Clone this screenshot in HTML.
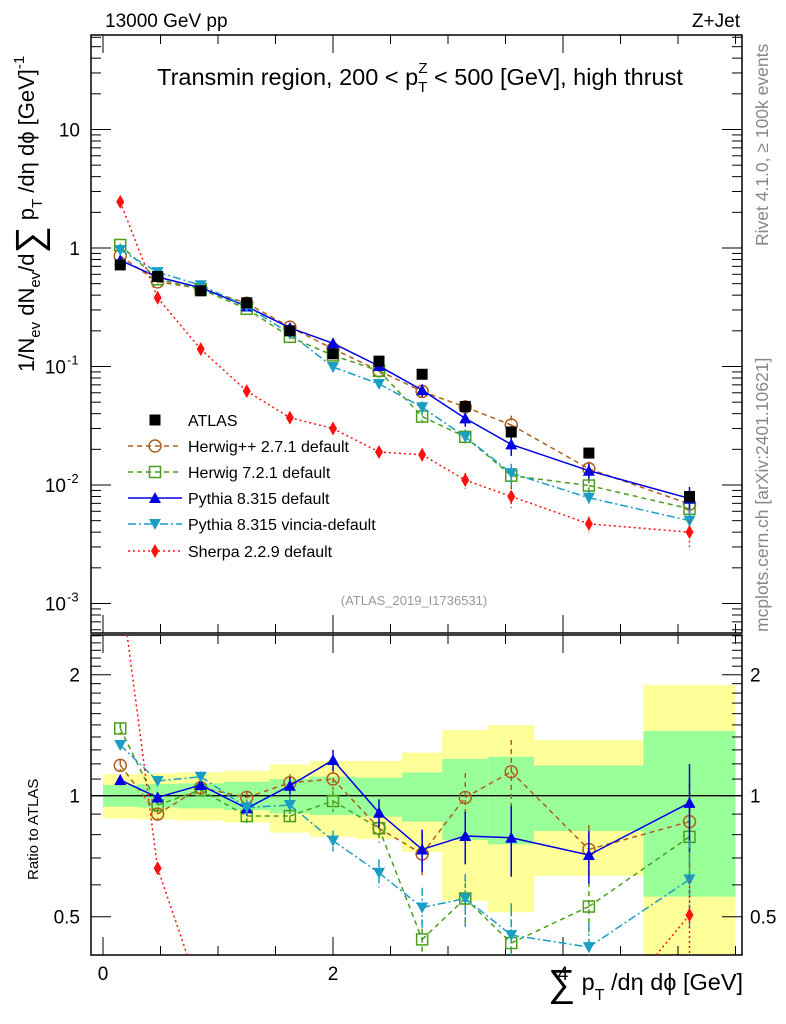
<!DOCTYPE html>
<html><head><meta charset="utf-8"><style>
html,body{margin:0;background:#fff;width:786px;height:1024px;overflow:hidden}
svg{display:block;font-family:"Liberation Sans",sans-serif}
</style></head><body>
<svg id="c" width="786" height="1024" viewBox="0 0 786 1024" xmlns="http://www.w3.org/2000/svg">
<defs>
<clipPath id="cm"><rect x="91" y="35" width="651" height="598"/></clipPath>
<clipPath id="cr"><rect x="91" y="635" width="651" height="320"/></clipPath>
</defs>
<g id="bands" clip-path="url(#cr)"></g>
<g id="axes"></g>
<g id="series"></g>
<text x="105" y="27" font-size="19">13000 GeV pp</text>
<text x="740" y="27" font-size="19" text-anchor="end">Z+Jet</text>
<text x="420" y="85" font-size="23.5" text-anchor="middle">Transmin region, 200 &lt; p<tspan font-size="15" dy="7">T</tspan><tspan font-size="15" dx="-9" dy="-19">Z</tspan><tspan dy="12"> &lt; 500 [GeV], high thrust</tspan></text>
<text x="414" y="605" font-size="13" fill="#999" text-anchor="middle">(ATLAS_2019_I1736531)</text>
<text transform="translate(768,246) rotate(-90)" font-size="17.5" fill="#888">Rivet 4.1.0, ≥ 100k events</text>
<text transform="translate(768,632) rotate(-90)" font-size="17.5" fill="#888">mcplots.cern.ch [arXiv:2401.10621]</text>
<text transform="translate(34,372) rotate(-90)" font-size="22">1/N<tspan font-size="15" dy="6">ev</tspan><tspan dy="-6"> dN</tspan><tspan font-size="15" dy="6">ev</tspan><tspan dy="-6">/d</tspan><tspan font-size="38" dy="8">∑</tspan><tspan dy="-8"> p</tspan><tspan font-size="15" dy="8">T</tspan><tspan dy="-8"> /dη dϕ  [GeV]</tspan><tspan font-size="15" dy="-10">-1</tspan></text>
<text transform="translate(38,880) rotate(-90)" font-size="15">Ratio to ATLAS</text>
<text x="548" y="996" font-size="23.5"><tspan font-size="38">∑</tspan><tspan dy="-6"> p</tspan><tspan font-size="16" dy="10">T</tspan><tspan dy="-10"> /dη dϕ [GeV]</tspan></text>
<g id="legend"></g>
</svg>
<script>
const NS="http://www.w3.org/2000/svg";
const edges=[0,0.3,0.65,1.05,1.45,1.8,2.2,2.6,2.95,3.35,3.75,4.7,5.5];
const xs=[0.15,0.475,0.85,1.25,1.625,2.0,2.4,2.775,3.15,3.55,4.225,5.1];
const atlas=[0.72,0.575,0.435,0.345,0.2,0.128,0.111,0.086,0.046,0.028,0.0186,0.008];
const herwigpp=[0.857,0.518,0.455,0.342,0.215,0.141,0.092,0.0616,0.0455,0.0321,0.0137,0.0069];
const herwig7=[1.06,0.545,0.449,0.307,0.178,0.124,0.092,0.0378,0.0255,0.012,0.0099,0.0063];
const pythia=[0.788,0.569,0.462,0.321,0.212,0.157,0.101,0.0632,0.0365,0.022,0.0132,0.0077];
const vincia=[0.963,0.626,0.485,0.322,0.19,0.099,0.0714,0.0453,0.0255,0.0126,0.0078,0.005];
const sherpa=[2.45,0.38,0.14,0.062,0.037,0.030,0.019,0.018,0.011,0.008,0.0047,0.0040];
const rHerwigpp=[1.19,0.90,1.047,0.99,1.077,1.10,0.83,0.716,0.99,1.147,0.735,0.862];
const rHerwig7=[1.47,0.948,1.033,0.89,0.89,0.97,0.83,0.439,0.555,0.43,0.53,0.79];
const rPythia=[1.094,0.99,1.063,0.93,1.059,1.227,0.907,0.735,0.794,0.786,0.712,0.96];
const rVincia=[1.337,1.088,1.115,0.934,0.948,0.773,0.643,0.527,0.555,0.45,0.42,0.619];
const rSherpa=[3.4,0.66,0.32,0.18,0.185,0.234,0.171,0.209,0.239,0.286,0.253,0.505];
const bandTotUp=[1.13,1.137,1.143,1.152,1.196,1.22,1.22,1.279,1.457,1.499,1.375,1.886];
const bandTotDn=[0.878,0.873,0.867,0.858,0.809,0.79,0.78,0.725,0.548,0.513,0.632,0.3];
const bandStatUp=[1.063,1.069,1.073,1.083,1.1,1.115,1.108,1.143,1.234,1.25,1.188,1.448];
const bandStatDn=[0.939,0.934,0.93,0.921,0.904,0.895,0.887,0.862,0.776,0.757,0.817,0.561];
const relErr=[0.03,0.03,0.03,0.04,0.05,0.06,0.08,0.12,0.15,0.2,0.15,0.25];
const xTicks=[0,2,4];

const X=v=>103+115*v;
const Y=v=>248-118.5*Math.log10(v);
const R=v=>795.7-121*Math.log2(v);
function mk(tag,at,parent){const e=document.createElementNS(NS,tag);for(const k in at)e.setAttribute(k,at[k]);parent.appendChild(e);return e;}
const clampY=(y,lo,hi)=>Math.max(lo,Math.min(hi,y));
const axes=document.getElementById('axes'),ser=document.getElementById('series'),bands=document.getElementById('bands'),leg=document.getElementById('legend');

for(let i=0;i<xs.length;i++){
 const t=clampY(R(bandTotUp[i]),635,955),bt=clampY(R(bandTotDn[i]),635,955);
 let b=mk('rect',{x:X(edges[i]),y:t,width:X(edges[i+1])-X(edges[i]),height:bt-t,fill:'#ffff99'},bands);
 
 
 let g=mk('rect',{x:X(edges[i]),y:R(bandStatUp[i]),width:X(edges[i+1])-X(edges[i]),height:R(bandStatDn[i])-R(bandStatUp[i]),fill:'#99ff99'},bands);
 
 
}
let f1=mk('rect',{x:91,y:35,width:651,height:598,fill:'none',stroke:'#000','stroke-width':1.5},axes);


let f2=mk('rect',{x:91,y:635,width:651,height:320,fill:'none',stroke:'#000','stroke-width':1.5},axes);


let one=mk('line',{x1:91,x2:742,y1:R(1),y2:R(1),stroke:'#000','stroke-width':1.3},axes);


for(let v=0;v<=5.5;v+=0.5){
 const big=Math.abs(v%2)<1e-6, L=big?18:9;
 mk('line',{x1:X(v),x2:X(v),y1:633,y2:633-L,stroke:'#000'},axes);
 mk('line',{x1:X(v),x2:X(v),y1:35,y2:35+L,stroke:'#000'},axes);
 mk('line',{x1:X(v),x2:X(v),y1:955,y2:955-L,stroke:'#000'},axes);
 mk('line',{x1:X(v),x2:X(v),y1:635,y2:635+L,stroke:'#000'},axes);
}
xTicks.forEach(v=>{let t=mk('text',{x:X(v),y:980,'font-size':19,'text-anchor':'middle'},axes);t.textContent=v;
 
 });
for(let e=-4;e<=1;e++)for(let m=1;m<10;m++){const v=m*Math.pow(10,e),y=Y(v);if(y<35||y>633)continue;const L=m==1?20:10;
 mk('line',{x1:91,x2:91+L,y1:y,y2:y,stroke:'#000'},axes);mk('line',{x1:742,x2:742-L,y1:y,y2:y,stroke:'#000'},axes);}
[[10,'10'],[1,'1']].forEach(([v,s])=>{let t=mk('text',{x:80,y:Y(v)+7,'font-size':19,'text-anchor':'end'},axes);t.textContent=s;
 
 });
[-1,-2,-3].forEach(e=>{let t=mk('text',{x:66,y:Y(Math.pow(10,e))+7,'font-size':19,'text-anchor':'end'},axes);t.textContent='10';
 
 
 let s=mk('text',{x:67,y:Y(Math.pow(10,e))-2,'font-size':13},axes);s.textContent=e;});
for(let v=0.4;v<=2.51;v+=0.1){const y=R(v);if(y<635||y>955)continue;const mj=[0.5,1,2].some(a=>Math.abs(a-v)<1e-6);const L=mj?20:10;
 mk('line',{x1:91,x2:91+L,y1:y,y2:y,stroke:'#000'},axes);mk('line',{x1:742,x2:742-L,y1:y,y2:y,stroke:'#000'},axes);}
[0.5,1,2].forEach(v=>{let t=mk('text',{x:80,y:R(v)+7,'font-size':19,'text-anchor':'end'},axes);t.textContent=v;
 
 
 let t2=mk('text',{x:750,y:R(v)+7,'font-size':19},axes);t2.textContent=v;
 
 });

function marker(kind,c,x,y,p){
 if(kind=='sq')return mk('rect',{x:x-5.5,y:y-5.5,width:11,height:11,fill:'#000'},p);
 if(kind=='circ')return mk('circle',{cx:x,cy:y,r:6,fill:'none',stroke:c,'stroke-width':1.5},p);
 if(kind=='osq')return mk('rect',{x:x-5.5,y:y-5.5,width:11,height:11,fill:'none',stroke:c,'stroke-width':1.5},p);
 if(kind=='up')return mk('polygon',{points:`${x-6},${y+5} ${x+6},${y+5} ${x},${y-6}`,fill:c},p);
 if(kind=='dn')return mk('polygon',{points:`${x-6},${y-5} ${x+6},${y-5} ${x},${y+6}`,fill:c},p);
 return mk('polygon',{points:`${x},${y-7} ${x+4},${y} ${x},${y+7} ${x-4},${y}`,fill:c},p);
}
// clip a segment to [lo,hi] in y; returns null if fully outside
function clipSeg(x1,y1,x2,y2,lo,hi){
 const cl=(xa,ya,xb,yb,yl)=>xa+(xb-xa)*(yl-ya)/(yb-ya);
 if((y1<lo&&y2<lo)||(y1>hi&&y2>hi))return null;
 if(y1<lo){x1=cl(x1,y1,x2,y2,lo);y1=lo;} else if(y1>hi){x1=cl(x1,y1,x2,y2,hi);y1=hi;}
 if(y2<lo){x2=cl(x1,y1,x2,y2,lo);y2=lo;} else if(y2>hi){x2=cl(x1,y1,x2,y2,hi);y2=hi;}
 return [x1,y1,x2,y2];
}
const series=[
 {n:'herwigpp',lab:'Herwig++ 2.7.1 default',c:'#b0601c',d:'5,4',k:'circ',m:herwigpp,r:rHerwigpp},
 {n:'herwig7',lab:'Herwig 7.2.1 default',c:'#4a9e1c',d:'5,4',k:'osq',m:herwig7,r:rHerwig7},
 {n:'pythia',lab:'Pythia 8.315 default',c:'#0000e6',d:'',k:'up',m:pythia,r:rPythia},
 {n:'vincia',lab:'Pythia 8.315 vincia-default',c:'#1a9ec4',d:'8,3,2,3',k:'dn',m:vincia,r:rVincia},
 {n:'sherpa',lab:'Sherpa 2.2.9 default',c:'#ff1010',d:'2,3',k:'dia',m:sherpa,r:rSherpa}];
series.forEach(s=>{
 [[s.m,Y,'cm','main',35,633],[s.r,R,'cr','ratio',635,955]].forEach(([arr,F,clip,pn,lo,hi])=>{
  const g=mk('g',{'clip-path':`url(#${clip})`},ser);
  
  
  const pts=[];
  for(let i=0;i+1<arr.length;i++){
   const sg=clipSeg(X(xs[i]),F(arr[i]),X(xs[i+1]),F(arr[i+1]),lo,hi);
   if(sg)mk('line',{x1:sg[0],y1:sg[1],x2:sg[2],y2:sg[3],stroke:s.c,'stroke-width':1.5,'stroke-dasharray':s.d},g);
  }
  arr.forEach((v,i)=>{const x=X(xs[i]),y=F(v);if(y<lo||y>hi)return;
   mk('line',{x1:x,x2:x,y1:clampY(F(v*(1+relErr[i])),lo,hi),y2:clampY(F(v*(1-relErr[i])),lo,hi),stroke:s.c,'stroke-width':1.5,'stroke-dasharray':s.d},g);
   const mm=marker(s.k,s.c,x,y,g);
   
   });
 });
});
atlas.forEach((v,i)=>{const m=marker('sq','#000',X(xs[i]),Y(v),ser);
 
 });
const ly=[420,446,472,498,524,551];
let e0=marker('sq','#000',155,ly[0],leg);


let t0=mk('text',{x:188,y:ly[0]+6,'font-size':16},leg);t0.textContent='ATLAS';


series.forEach((s,i)=>{const y=ly[i+1];
 mk('line',{x1:128,x2:182,y1:y,y2:y,stroke:s.c,'stroke-width':1.5,'stroke-dasharray':s.d},leg);
 marker(s.k,s.c,155,y,leg);
 const t=mk('text',{x:188,y:y+6,'font-size':16},leg);t.textContent=s.lab;
 
 });
</script>
</body></html>
